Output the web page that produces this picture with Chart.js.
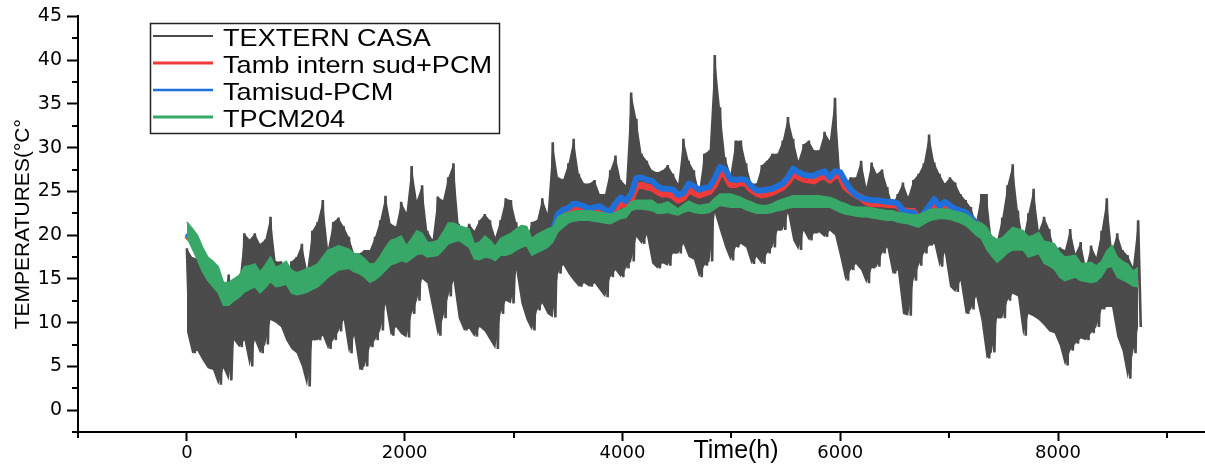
<!DOCTYPE html>
<html>
<head>
<meta charset="utf-8">
<title>Temperatures</title>
<script src="https://cdn.jsdelivr.net/npm/chart.js@4.4.1/dist/chart.umd.min.js"></script>
<style>
  html, body { margin: 0; padding: 0; background: #fff; }
  #wrap { width: 1205px; height: 466px; }
</style>
</head>
<body>
<div id="wrap"><canvas id="chart" width="1205" height="466"></canvas></div>
<script>
// one sample every 48 h
const STEP = 48;

// outside temperature: upper and lower swing of each 48 h window
const tMax = [
  18.5,17.5,17.3,16.4,15.6,14.8,14.1,12.9,15.5,13.0,
  14.5,20.2,19.5,20.2,19.0,19.5,22.1,17.0,17.0,14.5,
  17.0,17.5,19.0,16.0,20.5,21.5,24.0,18.5,21.5,22.0,
  21.0,19.8,17.9,17.9,18.3,18.3,19.8,21.7,24.5,21.3,
  21.0,23.8,22.6,27.9,24.0,25.7,20.5,19.5,24.4,24.0,
  26.6,28.2,21.3,20.2,21.3,20.5,21.7,22.4,21.7,19.8,
  21.7,24.2,24.0,21.5,19.2,19.4,21.5,21.7,24.2,22.5,
  30.6,26.6,26.4,28.2,31.0,27.0,25.9,25.9,26.3,24.7,
  24.7,27.4,29.1,26.3,25.7,36.3,33.3,29.3,28.5,27.4,
  27.2,27.4,28.0,27.0,25.9,31.0,28.5,27.4,25.1,29.3,
  29.7,40.6,34.6,28.9,27.0,30.8,30.8,28.2,25.9,25.9,
  28.0,28.5,29.3,29.3,30.8,33.5,31.0,28.5,30.4,30.8,
  29.7,29.7,31.8,30.8,35.7,27.0,25.9,26.6,26.6,28.5,
  25.5,28.3,27.0,27.5,25.5,23.5,24.7,26.0,24.4,26.3,
  27.0,28.2,31.5,28.3,27.0,25.9,26.6,26.0,24.7,24.0,
  23.2,21.5,24.7,24.7,19.4,19.4,22.0,25.7,28.1,22.8,
  19.6,22.5,25.3,20.5,22.1,20.7,18.3,18.6,18.3,20.7,
  17.9,19.2,16.4,18.8,17.5,20.5,24.2,18.3,20.2,18.3,
  17.7,16.4,21.7
];
const tMin = [
  9.0,6.5,6.8,5.7,4.8,4.6,2.9,4.8,3.4,8.0,
  7.2,8.0,5.0,8.0,6.5,7.5,10.3,10.0,9.5,8.0,
  7.0,6.5,5.0,2.7,8.0,8.0,8.5,7.0,8.0,9.0,
  10.3,6.5,8.5,4.6,5.0,7.2,8.0,9.1,12.1,8.5,
  9.5,8.7,8.3,11.0,12.5,15.0,14.5,11.5,8.5,10.5,
  13.0,14.8,10.5,9.1,9.3,8.4,9.5,9.0,8.0,7.0,
  11.0,12.5,12.2,16.0,12.2,10.3,9.1,11.4,12.2,11.0,
  10.6,15.6,16.6,15.6,14.8,14.1,14.5,14.1,14.5,13.7,
  12.9,15.2,16.0,15.2,16.2,17.0,19.8,19.0,20.0,16.8,
  16.2,16.8,16.5,17.9,17.9,19.0,17.5,17.2,15.2,16.5,
  17.0,22.5,20.5,18.6,17.1,18.6,19.0,18.6,16.7,17.5,
  16.7,17.9,18.6,20.5,20.6,22.5,19.4,18.3,20.5,19.4,
  20.2,20.3,19.8,20.5,20.0,17.5,14.8,16.0,16.7,16.0,
  14.5,16.2,16.4,17.9,18.6,15.6,16.0,11.0,10.8,14.8,
  16.5,17.9,18.8,19.0,16.4,18.0,14.1,13.5,14.8,11.0,
  11.5,13.0,10.3,5.9,6.6,10.5,10.5,12.5,13.3,13.0,
  8.5,11.0,10.7,10.3,9.7,9.0,8.8,7.4,5.1,6.8,
  7.6,8.2,8.0,8.8,9.5,11.5,11.8,11.8,8.4,6.8,
  3.6,6.5,9.5
];

// room with PCM (red)
const tRed = [
  20.0,19.4,18.4,17.2,16.0,15.4,14.8,13.4,13.2,13.6,
  14.0,14.8,15.1,15.3,14.6,15.2,16.0,15.2,15.4,15.6,
  14.7,14.4,14.6,14.8,15.1,15.4,16.0,16.7,17.0,17.4,
  17.3,17.2,16.8,16.7,16.2,15.6,15.8,16.5,17.3,18.0,
  18.2,18.5,17.8,18.4,19.1,19.0,18.3,18.4,18.5,19.3,
  20.2,20.3,20.2,20.0,19.6,18.1,18.2,18.7,18.4,17.9,
  18.6,18.8,19.0,19.5,19.8,19.9,18.6,19.2,19.5,19.7,
  20.0,21.8,22.4,22.5,23.0,22.9,22.8,22.7,22.8,22.9,
  22.6,22.5,23.0,23.6,23.4,24.1,25.6,25.7,25.5,25.4,
  25.0,24.7,24.7,24.5,24.0,24.3,25.2,24.9,24.6,24.8,
  25.0,25.8,27.1,26.9,25.8,25.8,26.0,25.9,25.2,24.8,
  24.6,24.7,24.9,25.2,25.5,26.1,27.0,26.7,26.4,26.3,
  26.2,26.6,26.8,26.3,26.9,26.7,25.5,25.0,24.6,24.3,
  23.8,23.6,23.6,23.6,23.5,23.5,23.4,22.8,22.7,22.7,
  21.9,22.2,22.9,23.7,23.0,23.6,23.2,22.8,22.6,22.5,
  21.8,21.4,20.8,19.6,18.7,18.1,18.5,19.1,19.5,19.4,
  19.3,18.6,18.8,19.0,18.0,17.8,17.5,16.5,16.1,16.2,
  16.4,15.7,15.7,15.7,15.5,16.1,17.2,17.5,16.3,15.9,
  15.6,15.0,15.1
];

// room without PCM (blue)
const tBlue = [
  20.2,19.6,18.6,17.4,16.2,15.6,15.0,13.6,13.4,13.8,
  14.2,15.0,15.3,15.5,14.8,15.4,16.2,15.4,15.6,15.8,
  14.9,14.6,14.8,15.0,15.3,15.6,16.2,16.9,17.2,17.6,
  17.5,17.4,17.0,16.9,16.4,15.8,16.0,16.7,17.5,18.2,
  18.4,18.7,18.0,18.6,19.3,19.2,18.5,18.6,18.7,19.5,
  20.4,20.5,20.4,20.2,19.8,18.3,18.4,18.9,18.6,18.1,
  18.8,19.0,19.2,19.7,20.0,20.1,18.8,19.4,19.8,20.0,
  20.5,22.4,22.9,23.1,23.6,23.5,23.3,23.0,23.2,23.3,
  22.9,22.7,23.6,24.3,23.9,24.7,26.5,26.6,26.3,26.2,
  25.6,25.3,25.3,25.2,24.6,24.8,25.9,25.6,25.2,25.4,
  25.5,26.5,27.8,27.5,26.4,26.3,26.4,26.3,25.6,25.1,
  25.1,25.2,25.3,25.6,25.9,26.6,27.6,27.2,26.9,26.8,
  26.8,27.1,27.3,26.6,27.3,27.2,26.1,25.2,24.6,24.3,
  24.1,24.0,24.0,23.9,23.8,23.8,23.6,22.8,22.6,22.6,
  21.8,22.5,23.3,24.1,23.3,23.8,23.4,23.0,22.8,22.6,
  22.0,21.4,20.8,19.8,18.9,18.3,18.7,19.3,19.7,19.6,
  19.5,18.8,19.0,19.2,18.2,18.0,17.7,16.7,16.3,16.4,
  16.6,15.9,15.9,15.9,15.7,16.3,17.4,17.7,16.5,16.1,
  15.8,15.2,15.3
];

// PCM temperature: top and bottom of its daily band (green)
const pcmHi = [
  21.5,20.8,20.0,18.6,17.5,17.0,16.4,14.6,14.6,15.0,
  15.4,16.4,16.5,16.7,15.8,16.6,17.5,16.3,16.6,17.0,
  16.0,15.7,15.9,16.2,16.4,16.7,17.5,18.3,18.5,18.8,
  18.6,18.4,17.9,17.8,17.3,16.7,16.8,17.6,18.6,19.4,
  19.6,19.9,18.8,19.6,20.5,20.2,19.2,19.2,19.4,20.3,
  21.4,21.4,21.1,20.9,20.7,19.0,19.2,19.9,19.4,18.7,
  19.6,19.9,20.2,20.7,21.1,21.0,19.6,20.1,20.4,20.7,
  20.9,22.1,22.4,22.6,22.7,22.8,22.8,22.8,22.7,22.6,
  22.5,22.4,22.6,22.9,23.1,23.8,24.0,24.0,24.0,24.0,
  23.5,23.6,23.8,23.4,23.0,23.5,23.9,23.6,23.4,23.5,
  23.6,24.2,24.7,24.7,24.7,24.5,24.3,24.0,23.8,23.5,
  23.4,23.4,23.6,23.9,24.1,24.3,24.5,24.5,24.5,24.5,
  24.5,24.5,24.4,24.3,24.1,23.8,23.6,23.3,23.2,23.2,
  23.2,23.1,23.0,22.9,22.8,22.8,22.6,22.5,22.4,22.3,
  22.3,22.6,22.9,23.0,23.0,23.0,22.9,22.7,22.6,22.4,
  22.0,21.5,21.4,20.9,19.9,19.5,19.7,20.3,20.9,20.7,
  20.5,19.8,20.0,20.3,19.3,19.2,19.0,18.0,17.5,17.6,
  17.7,16.8,16.8,16.9,16.5,17.0,18.2,18.8,17.5,17.0,
  16.7,15.9,16.3
];
const pcmLo = [
  19.8,18.5,17.2,15.8,14.8,14.1,13.4,12.0,12.0,12.5,
  12.9,13.5,13.8,14.1,13.4,14.0,14.7,14.1,14.2,14.4,
  13.4,13.2,13.3,13.5,13.8,14.1,14.6,15.2,15.6,16.0,
  16.1,16.2,15.8,15.6,15.2,14.6,14.9,15.4,16.0,16.6,
  16.8,17.1,16.9,17.3,17.8,17.9,17.5,17.6,17.7,18.3,
  19.0,19.2,19.4,19.0,18.6,17.3,17.2,17.5,17.4,17.1,
  17.7,17.7,17.9,18.3,18.6,18.8,17.7,18.0,18.3,18.6,
  19.2,20.4,20.9,21.4,21.6,21.7,21.7,21.7,21.6,21.5,
  21.4,21.3,21.6,21.9,22.0,22.8,23.0,23.0,22.9,22.8,
  22.5,22.5,22.6,22.4,22.3,22.6,22.8,22.6,22.5,22.5,
  22.6,23.0,23.4,23.3,23.2,23.2,23.2,22.9,22.7,22.5,
  22.5,22.5,22.6,22.8,22.9,23.1,23.2,23.2,23.2,23.2,
  23.2,23.2,23.2,23.2,22.9,22.6,22.4,22.3,22.2,22.1,
  22.1,22.0,21.9,21.8,21.7,21.7,21.5,21.4,21.3,21.1,
  20.9,21.3,21.6,21.8,21.9,21.9,21.8,21.6,21.4,21.1,
  20.6,20.0,19.6,18.4,17.6,16.9,17.4,18.0,18.3,18.3,
  18.3,17.5,17.7,17.9,16.8,16.5,16.1,15.2,14.8,15.0,
  15.2,14.8,14.7,14.6,14.7,15.3,16.3,16.4,15.2,14.9,
  14.6,14.2,14.1
];

const xTicks = [0, 2000, 4000, 6000, 8000];
const xMinorTicks = [-1000, 1000, 3000, 5000, 7000, 9000];
const yTicks = [0, 5, 10, 15, 20, 25, 30, 35, 40, 45];
const yMinorTicks = [-2.5, 2.5, 7.5, 12.5, 17.5, 22.5, 27.5, 32.5, 37.5, 42.5];

const names = ['TEXTERN CASA', 'Tamb intern sud+PCM', 'Tamisud-PCM', 'TPCM204'];

const DARK = '#4b4b4b';
const RED = '#ee3a3a';
const BLUE = '#1f6fd8';
const GREEN = '#38a868';

const hours = tMax.map((_, i) => i * STEP);
const pts = arr => arr.map((v, i) => ({ x: hours[i], y: v }));

// outside temperature drawn as up/down swing (max then min half a step later)
const extPts = [];
hours.forEach((h, i) => {
  extPts.push({ x: h, y: tMax[i] });
  extPts.push({ x: h + STEP / 2, y: tMin[i] });
});

// minor ticks, axis title and the framed legend
const decor = {
  id: 'decor',
  afterDraw(chart) {
    const { ctx } = chart;
    const x = chart.scales.x;
    const y = chart.scales.y;
    ctx.save();
    ctx.strokeStyle = '#000';
    ctx.lineWidth = 2;
    xMinorTicks.forEach(v => {
      const px = Math.round(x.getPixelForValue(v));
      ctx.beginPath();
      ctx.moveTo(px, x.top);
      ctx.lineTo(px, x.top + 6);
      ctx.stroke();
    });
    yMinorTicks.forEach(v => {
      const py = Math.round(y.getPixelForValue(v));
      ctx.beginPath();
      ctx.moveTo(y.right, py);
      ctx.lineTo(y.right - 6, py);
      ctx.stroke();
    });

    ctx.fillStyle = '#000';
    ctx.font = '25px "Liberation Sans", Arial, sans-serif';
    ctx.textAlign = 'center';
    ctx.textBaseline = 'alphabetic';
    ctx.fillText('Time(h)', 736, 458);

    // legend box
    ctx.fillStyle = '#fff';
    ctx.fillRect(150, 23, 350, 111);
    ctx.lineWidth = 1.5;
    ctx.strokeStyle = '#222';
    ctx.strokeRect(150.5, 23.5, 349, 110);
    const cols = [DARK, RED, BLUE, GREEN];
    const widths = [2, 3, 2.5, 3];
    names.forEach((n, i) => {
      const base = 46 + i * 27;
      const ly = base - 10;
      ctx.strokeStyle = cols[i];
      ctx.lineWidth = widths[i];
      ctx.beginPath();
      ctx.moveTo(153, ly);
      ctx.lineTo(213, ly);
      ctx.stroke();
      ctx.save();
      ctx.translate(223, base);
      ctx.scale(1.13, 1);
      ctx.fillStyle = '#000';
      ctx.textAlign = 'left';
      ctx.font = '24px "Liberation Sans", Arial, sans-serif';
      ctx.fillText(n, 0, 0);
      ctx.restore();
    });
    ctx.restore();
  }
};

const axisGrid = len => ({
  display: true,
  drawOnChartArea: false,
  drawTicks: true,
  tickLength: len,
  tickWidth: 2,
  tickColor: '#000'
});

new Chart(document.getElementById('chart'), {
  type: 'line',
  data: {
    datasets: [
      {
        label: names[3], data: pts(pcmHi), order: 0,
        borderColor: GREEN, backgroundColor: GREEN, borderWidth: 1.5, fill: '+1'
      },
      {
        label: names[3] + ' low', data: pts(pcmLo), order: 0,
        borderColor: GREEN, borderWidth: 1.5, fill: false
      },
      {
        label: names[2], data: pts(tBlue), order: 1,
        borderColor: BLUE, borderWidth: 6, fill: false, borderJoinStyle: 'round'
      },
      {
        label: names[1], data: pts(tRed), order: 2,
        borderColor: RED, borderWidth: 7, fill: false, borderJoinStyle: 'round'
      },
      {
        label: names[0], data: extPts, order: 3,
        borderColor: DARK, borderWidth: 2.6, fill: false, borderJoinStyle: 'bevel'
      },
      {
        // body of the outside swing band, between the highs and the lows
        label: names[0] + ' band', data: pts(tMax), order: 4,
        borderWidth: 0, borderColor: 'rgba(0,0,0,0)', backgroundColor: DARK, fill: '+1'
      },
      {
        label: names[0] + ' lows', data: pts(tMin), order: 4,
        borderWidth: 0, borderColor: 'rgba(0,0,0,0)', fill: false
      }
    ]
  },
  options: {
    responsive: false,
    devicePixelRatio: 1,
    animation: false,
    elements: { point: { radius: 0 }, line: { tension: 0 } },
    layout: { padding: { top: 16, left: 0, right: 0, bottom: 0 } },
    scales: {
      x: {
        type: 'linear',
        min: -1000,
        max: 9350,
        afterFit: s => { s.height = 34; },
        afterBuildTicks: s => { s.ticks = xTicks.map(v => ({ value: v })); },
        ticks: {
          color: '#000',
          font: { family: 'DejaVu Sans', size: 18 },
          padding: 2,
          maxRotation: 0,
          autoSkip: false,
          callback: v => String(v)
        },
        grid: axisGrid(9),
        border: { display: true, color: '#000', width: 2 }
      },
      y: {
        min: -2.5,
        max: 45,
        afterFit: s => { s.width = 78; },
        afterBuildTicks: s => { s.ticks = yTicks.map(v => ({ value: v })); },
        ticks: {
          color: '#000',
          font: { family: 'DejaVu Sans', size: 19 },
          padding: 5,
          autoSkip: false,
          callback: v => String(v)
        },
        grid: axisGrid(11),
        border: { display: true, color: '#000', width: 2 },
        title: {
          display: true,
          text: 'TEMPERATURES(°C°',
          color: '#000',
          font: { family: 'Liberation Sans', size: 21 },
          padding: { top: 11, bottom: 0 }
        }
      }
    },
    plugins: {
      legend: { display: false },
      tooltip: { enabled: false }
    }
  },
  plugins: [decor]
});
</script>
</body>
</html>
